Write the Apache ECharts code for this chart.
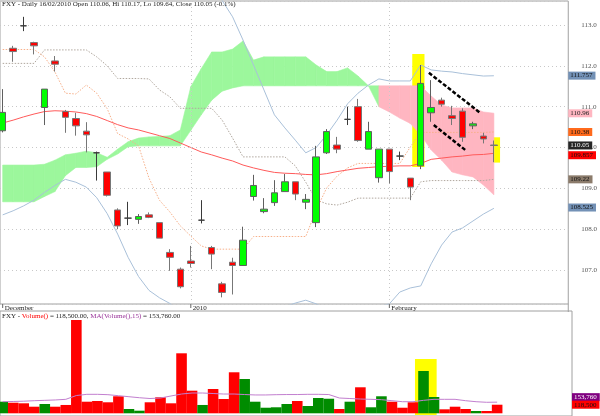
<!DOCTYPE html>
<html><head><meta charset="utf-8">
<script src="https://cdn.jsdelivr.net/npm/echarts@6/dist/echarts.min.js"></script>
<style>html,body{margin:0;padding:0;background:#fff}#c{width:600px;height:416px}</style>
</head><body><div id="c"></div>
<script>
// ---------- data ----------
const symbol = 'FXY';
const openP  = [110.41,112.43,112.98,112.57,110.98,112.12,110.88,110.71,110.40,109.87,109.40,108.47,108.27,108.24,108.35,108.16,107.43,107.02,107.22,108.22,107.55,106.66,107.19,107.11,108.80,108.43,108.65,108.92,109.16,108.66,108.16,109.87,110.06,110.69,111.00,109.96,109.26,109.96,109.79,109.25,109.55,110.85,111.16,110.78,110.89,110.53,110.28,110.06];
const closeP = [110.86,112.35,112.98,112.49,111.43,112.04,110.74,110.53,110.31,109.87,108.83,108.08,108.27,108.31,108.29,107.78,107.31,106.59,107.16,108.22,107.39,106.45,107.11,107.73,109.07,108.49,108.89,109.16,108.86,108.73,109.77,110.39,109.96,110.69,110.17,110.39,109.96,109.41,109.79,109.03,111.57,110.98,111.06,110.71,110.25,110.58,110.21,110.05];
const lowP   = [110.37,112.10,112.85,112.28,110.55,111.86,110.36,110.29,109.88,109.19,108.80,108.00,108.10,108.13,108.27,107.78,106.98,106.55,107.06,108.14,107.02,106.33,106.40,107.11,108.70,108.39,108.57,108.92,108.71,108.49,108.05,109.84,109.86,110.55,110.14,109.96,109.14,109.12,109.69,108.71,109.47,110.63,111.00,110.55,110.14,110.45,110.10,109.64];
const highP  = [111.43,112.49,113.20,112.59,111.43,112.24,110.92,110.85,110.62,109.90,109.40,108.51,108.67,108.37,108.41,108.16,107.51,107.06,107.59,108.71,107.59,106.71,107.30,108.06,109.33,108.76,109.20,109.35,109.16,108.86,110.04,110.45,110.26,111.00,111.19,110.63,109.96,109.96,109.90,109.25,112.02,111.65,111.22,111.02,110.96,110.63,110.36,110.17];
const spanA  = [109.57,109.57,109.57,109.57,109.59,109.69,109.82,109.86,109.91,109.87,109.76,109.96,110.14,110.23,110.26,110.27,110.29,110.43,111.49,111.93,112.34,112.34,112.41,112.61,112.14,112.22,112.22,112.22,112.22,112.22,112.02,111.86,111.86,111.95,111.75,111.51,111.00,110.87,110.72,110.59,110.31,109.94,109.69,109.40,109.33,109.28,109.08,108.84];
const spanB  = [108.67,108.67,108.67,108.67,108.80,108.92,109.31,109.51,109.51,109.53,109.71,109.84,110.02,110.04,110.04,110.04,110.04,110.04,110.42,110.80,111.16,111.38,111.46,111.51,111.51,111.51,111.51,111.51,111.51,111.51,111.51,111.51,111.51,111.51,111.51,111.51,111.51,111.51,111.51,111.51,111.51,111.26,111.04,110.97,110.97,110.97,110.87,110.84];
const tenkan = [112.40,112.40,112.40,112.40,112.22,111.85,111.33,111.31,111.53,111.33,110.95,110.34,110.21,110.04,109.25,108.71,108.42,108.08,107.83,107.59,107.51,107.51,107.51,107.51,107.82,107.82,107.82,107.82,107.82,107.82,108.47,109.01,109.30,109.50,109.61,109.61,109.61,109.61,109.61,110.01,110.37,110.37,110.37,110.37,110.37,110.37,110.37,110.38];
const kijun  = [112.06,112.06,112.06,112.06,112.39,112.39,112.39,112.39,112.39,112.22,112.00,111.69,111.69,111.69,111.68,111.41,111.24,110.96,110.96,110.96,110.96,110.67,110.23,109.77,109.77,109.77,109.77,109.77,109.55,109.15,108.72,108.62,108.59,108.66,108.76,108.76,108.76,108.76,108.76,108.76,109.16,109.19,109.19,109.19,109.19,109.19,109.19,109.22];
const maLine = [110.60,110.67,110.75,110.82,110.88,110.90,110.89,110.87,110.83,110.76,110.66,110.56,110.48,110.43,110.36,110.29,110.22,110.11,110.00,109.89,109.82,109.74,109.67,109.57,109.50,109.44,109.39,109.37,109.36,109.34,109.33,109.36,109.41,109.45,109.49,109.51,109.53,109.54,109.55,109.55,109.61,109.71,109.74,109.77,109.79,109.82,109.83,109.857];
const bbUpper = [null,null,null,null,null,null,null,null,null,null,null,null,null,null,null,null,null,null,null,null,114.0,113.60,113.2,112.63,112.02,111.41,110.80,110.48,110.18,109.87,110.0,110.31,110.67,111.07,111.33,111.53,111.68,111.63,111.63,111.63,112.02,111.90,111.87,111.85,111.81,111.78,111.75,111.757];
const bbLower = [108.35,108.45,108.57,108.71,108.90,109.07,109.22,109.15,109.03,108.77,108.38,107.88,107.31,106.84,106.50,106.32,106.18,105.95,105.8,105.7,105.6,105.6,105.7,105.8,105.9,106.0,106.05,106.1,106.19,106.26,106.17,106.05,105.95,105.9,105.95,106.0,106.1,106.17,106.46,106.56,106.61,107.15,107.61,107.93,108.03,108.20,108.37,108.51];
const volume = [160000,146000,138000,91000,128000,91000,115000,1288000,160000,170000,152000,235000,59000,36000,152000,221000,138000,828000,312000,115000,335000,197000,566000,473000,160000,77000,83000,128000,170000,101000,211000,201000,59000,160000,359000,83000,235000,160000,77000,152000,584000,225000,55000,91000,59000,32000,32000,118500];
const volUp  = [1,0,0,0,1,0,0,0,0,0,0,0,1,1,0,0,0,0,0,1,0,0,0,1,1,1,1,1,0,1,1,1,0,1,0,1,1,0,0,0,1,1,0,0,0,1,0,0];
const volMA  = [160000,163000,167000,174000,179000,184000,193000,245000,262000,262000,257000,243000,229000,215000,204000,211000,239000,266000,280000,280000,273000,266000,266000,259000,253000,253000,257000,259000,259000,262000,262000,259000,211000,204000,197000,193000,188000,174000,160000,160000,179000,193000,193000,193000,174000,160000,152000,153760];
const dateLabels = ['December', '2010', 'February'];
const dateIndex  = [0, 18, 37];
const priceTicks = [107, 108, 109, 110, 111, 112, 113];
const tagValues = [111.757, 110.96, 110.38, 110.05, 109.857, 109.22, 108.525];
const volTagValues = [153760, 118500];
const trendUpper = [[40.78, 111.83], [45.68, 110.85]];
const trendLower = [[41.25, 110.55], [44.26, 109.94]];
const hlMainA = [[39.19, 109.52], [40.36, 112.29]];
const hlMainB = [[46.42, 109.63], [47.59, 110.25]];
const hlVol   = [[39.19, -23000], [41.25, 749000]];

// ---------- styles ----------
const FONT = "'Liberation Serif','DejaVu Serif',serif";
const CLOUD_UP = '#9cf79c', CLOUD_DN = '#ffb6c1';
const tagStyle = [
  {bg:'#7391b6', fg:'#111', dy:0},
  {bg:'#ffb6c1', fg:'#222', dy:5},
  {bg:'#ff6a1c', fg:'#111', dy:0},
  {bg:'#262626', fg:'#fff', dy:0},
  {bg:'#ff0000', fg:'#111', dy:2},
  {bg:'#8b7b6b', fg:'#111', dy:0},
  {bg:'#7391b6', fg:'#111', dy:0}
];
const volTagStyle = [{bg:'#800080', fg:'#fff', dy:-5}, {bg:'#ff0000', fg:'#111', dy:0}];

const n = openP.length;
const IDX = openP.map((_, i) => i);
const X0 = -0.2567, X1 = 54.116;
const pts = arr => IDX.map(i => [i, arr[i] == null ? '-' : arr[i]]);
const candleData = IDX.map(i => [i, openP[i], closeP[i], lowP[i], highP[i]]);
const cloudSegs = IDX.slice(0, n - 1).map(i => [i, spanA[i], spanB[i], spanA[i + 1], spanB[i + 1]]);
const fmtNum = v => v.toLocaleString('en-US');
const last = n - 1;
const chg = ((closeP[last] - closeP[last - 1]) / closeP[last - 1] * 100).toFixed(1);

const dotted = (color) => ({type:'line', xAxisIndex:0, yAxisIndex:0, showSymbol:false, symbol:'none', z:3,
  lineStyle:{color, width:1, type:[1.5,1.5]}, silent:true});

const tagLabel = (text, st) => ({show:true, position:'end', distance:0, formatter:text,
  backgroundColor:st.bg, color:st.fg, fontSize:7, fontFamily:FONT, padding:[1,3,0,2], offset:[0, st.dy]});

const option = {
  animation: false,
  backgroundColor: '#ffffff',
  title: [
    {text: `${symbol} - Daily 16/02/2010 Open ${openP[last].toFixed(2)}, Hi ${highP[last].toFixed(2)}, Lo ${lowP[last].toFixed(2)}, Close ${closeP[last].toFixed(2)} (${chg}%)`,
     left: 2, top: 1, padding: 0, textStyle:{fontSize:7, fontFamily:FONT, fontWeight:'normal', color:'#222'}},
    {text: `{k|${symbol} - }{r|Volume()}{k| = ${fmtNum(volume[last])}.00, }{p|MA(Volume(),15)}{k| = ${fmtNum(volMA[last])}.00}`,
     left: 2, top: 313, padding: 0,
     textStyle:{fontSize:7, fontFamily:FONT, fontWeight:'normal', color:'#222',
       rich:{k:{fontSize:7, fontFamily:FONT, color:'#222'}, r:{fontSize:7, fontFamily:FONT, color:'#ff0000'}, p:{fontSize:7, fontFamily:FONT, color:'#993399'}}}}
  ],
  grid: [
    {left:0, right:28, top:1, height:303, show:true, borderColor:'#a0a0a0', borderWidth:1, backgroundColor:'transparent'},
    {left:0, right:28, top:311, height:105, show:true, borderColor:'#a0a0a0', borderWidth:1, backgroundColor:'transparent'}
  ],
  xAxis: [
    {type:'value', gridIndex:0, min:X0, max:X1, show:false, splitLine:{show:false}},
    {type:'value', gridIndex:1, min:X0, max:X1, show:false, splitLine:{show:false}}
  ],
  yAxis: [
    {type:'value', gridIndex:0, position:'right', min:106.167, max:113.588, minInterval:1, maxInterval:1, splitNumber:7,
     axisLine:{show:false}, axisTick:{show:false},
     axisLabel:{fontSize:7, fontFamily:FONT, color:'#555', margin:13, showMinLabel:false, showMaxLabel:false,
       formatter: v => priceTicks.includes(Math.round(v * 100) / 100) ? v.toFixed(1) : ''},
     splitLine:{show:true, lineStyle:{color:'#c8c8c8', type:[1,3], width:1}}},
    {type:'value', gridIndex:1, min:-37260, max:1411740, show:false, splitLine:{show:false}}
  ],
  series: [
    // ichimoku cloud, one quad per segment, colour by the left end
    {type:'custom', xAxisIndex:0, yAxisIndex:0, z:1, silent:true, data: cloudSegs,
     encode:{x:0, y:[1,2]},
     renderItem: (params, api) => {
       const i = api.value(0);
       const a0 = api.value(1), b0 = api.value(2), a1 = api.value(3), b1 = api.value(4);
       const col = a0 >= b0 ? CLOUD_UP : CLOUD_DN;
       return {type:'polygon', shape:{points:[api.coord([i, a0]), api.coord([i + 1, a1]), api.coord([i + 1, b1]), api.coord([i, b0])]},
               style:{fill:col, stroke:col, lineWidth:0.6}};
     }},
    // highlights + vertical grid
    {type:'line', xAxisIndex:0, yAxisIndex:0, data:[], z:2, silent:true,
     markArea:{silent:true, data:[
       [{coord:hlMainA[0], itemStyle:{color:'#ffff00', opacity:1}}, {coord:hlMainA[1]}],
       [{coord:[hlMainA[0][0], 110.55], itemStyle:{color:'#ffb000', opacity:1}}, {coord:[hlMainA[1][0], Math.max(spanA[39], spanB[39])]}],
       [{coord:hlMainB[0], itemStyle:{color:'#ffff00', opacity:1}}, {coord:hlMainB[1]}],
       [{coord:hlMainB[0], itemStyle:{color:'#ffb000', opacity:1}}, {coord:[last, hlMainB[1][1]]}]
     ]},
     markLine:{silent:true, symbol:['none','none'], label:{show:false},
       lineStyle:{color:'#c8c8c8', type:[1,3], width:1},
       data: dateIndex.slice(1).map(i => ({xAxis:i}))}
    },
    // bollinger
    {type:'line', data: pts(bbUpper), symbol:'none', z:3, lineStyle:{color:'#a9c0d9', width:1}, silent:true},
    {type:'line', data: pts(bbLower), symbol:'none', z:3, lineStyle:{color:'#a9c0d9', width:1}, silent:true},
    // kijun / tenkan
    Object.assign(dotted('#b0a79e'), {data: pts(kijun)}),
    Object.assign(dotted('#f7b08a'), {data: pts(tenkan)}),
    // moving average + price tags
    {type:'line', data: pts(maLine), symbol:'none', z:3, clip:false, lineStyle:{color:'#ff5a5a', width:1}, silent:true,
     markLine:{silent:true, symbol:['none','none'], lineStyle:{color:'rgba(0,0,0,0)', width:0},
       data: tagValues.map((v, k) => ({yAxis:v, lineStyle:{color:'rgba(0,0,0,0)', width:0}, label: tagLabel(String(v), tagStyle[k])}))}},
    // trend lines
    {type:'line', data: trendUpper, symbol:'none', z:4, lineStyle:{color:'#000', width:2.5, type:[4,2]}, silent:true},
    {type:'line', data: trendLower, symbol:'none', z:4, lineStyle:{color:'#000', width:2.5, type:[4,2]}, silent:true},
    // candles
    {type:'candlestick', xAxisIndex:0, yAxisIndex:0, data: candleData, encode:{x:0, y:[1,2,3,4]}, barWidth:7, z:5,
     itemStyle:{color:'#00ff00', color0:'#ff0000', borderColor:'#5f5f5f', borderColor0:'#777777', borderColorDoji:'#3a3a3a', borderWidth:1}},
    // volume
    {type:'line', xAxisIndex:1, yAxisIndex:1, data:[], z:1, silent:true,
     markArea:{silent:true, data:[[{coord:hlVol[0], itemStyle:{color:'#ffff00', opacity:1}}, {coord:hlVol[1]}]]}},
    {type:'bar', xAxisIndex:1, yAxisIndex:1, barWidth:10.6, z:2, clip:false, silent:true,
     data: IDX.map(i => ({value:[i, volume[i]], itemStyle:{color: volUp[i] ? '#008c00' : '#ff0000'}})),
     markLine:{silent:true, symbol:['none','none'], lineStyle:{color:'rgba(0,0,0,0)', width:0},
       data: volTagValues.map((v, k) => ({yAxis:v, lineStyle:{color:'rgba(0,0,0,0)', width:0}, label: tagLabel(fmtNum(v), volTagStyle[k])}))}},
    {type:'line', xAxisIndex:1, yAxisIndex:1, data: pts(volMA), symbol:'none', z:3, lineStyle:{color:'#c27fcf', width:1}, silent:true}
  ]
};

const chart = echarts.init(document.getElementById('c'));
chart.setOption(option);

// date strip labels placed through the x scale
const yBottom = chart.convertToPixel({yAxisIndex:0}, 106.167);
const gfx = [];
dateIndex.forEach((di, k) => {
  const px = chart.convertToPixel({xAxisIndex:0}, di);
  gfx.push({type:'line', shape:{x1:px, y1:yBottom, x2:px, y2:yBottom + 4}, style:{stroke:'#666', lineWidth:1}, silent:true});
  gfx.push({type:'text', x:px + 2, y:yBottom + 1, style:{text:dateLabels[k], fontSize:7, fontFamily:FONT, fill:'#222'}, silent:true});
});
const xr = chart.convertToPixel({xAxisIndex:0}, X1);
gfx.push({type:'line', shape:{x1:xr, y1:yBottom, x2:xr, y2:yBottom + 8}, style:{stroke:'#a0a0a0', lineWidth:1}, silent:true});
chart.setOption({graphic: gfx});
</script></body></html>
